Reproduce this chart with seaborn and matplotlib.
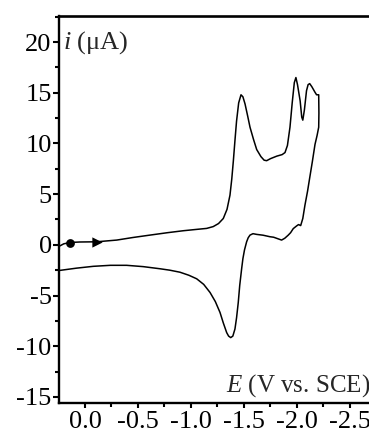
import matplotlib
matplotlib.use("Agg")
import matplotlib.pyplot as plt
import seaborn as sns
import pandas as pd
from matplotlib.ticker import MultipleLocator

# Cyclic voltammogram (E in V vs SCE, i in uA)
E_forward = [0.245, 0.20, 0.142, 0.05, -0.11, -0.30, -0.45, -0.613, -0.78, -0.927,
             -1.05, -1.148, -1.21, -1.26, -1.305, -1.34, -1.368, -1.385, -1.40, -1.415,
             -1.43, -1.45, -1.472, -1.49, -1.51, -1.535, -1.557, -1.59, -1.62, -1.66,
             -1.69, -1.714, -1.75, -1.81, -1.86, -1.887, -1.91, -1.934, -1.955, -1.975,
             -1.99, -2.005, -2.03, -2.045, -2.055, -2.07, -2.09, -2.105, -2.12, -2.14,
             -2.17, -2.185, -2.205]
i_forward = [-0.15, 0.10, 0.23, 0.28, 0.30, 0.47, 0.72, 0.96, 1.20, 1.39,
             1.52, 1.62, 1.80, 2.10, 2.60, 3.50, 4.90, 6.50, 8.30, 10.3,
             12.2, 14.0, 14.8, 14.6, 13.9, 12.7, 11.6, 10.4, 9.4, 8.7,
             8.35, 8.3, 8.5, 8.75, 8.9, 9.1, 9.8, 11.6, 14.0, 16.0,
             16.5, 15.8, 14.2, 12.6, 12.3, 13.3, 15.2, 15.8, 15.9, 15.6,
             15.05, 14.8, 14.8]
E_reverse = [-2.207, -2.205, -2.19, -2.17, -2.145, -2.12, -2.10, -2.075, -2.055, -2.035,
             -2.015, -1.996, -1.965, -1.94, -1.918, -1.885, -1.855, -1.82, -1.78, -1.745,
             -1.68, -1.62, -1.585, -1.557, -1.54, -1.525, -1.505, -1.49, -1.478, -1.46,
             -1.446, -1.43, -1.415, -1.395, -1.375, -1.355, -1.337, -1.305, -1.274, -1.23,
             -1.18, -1.12, -1.054, -0.98, -0.896, -0.80, -0.708, -0.55, -0.393, -0.24,
             -0.078, 0.08, 0.236, 0.30]
i_reverse = [13.0, 11.6, 10.8, 9.9, 8.2, 6.6, 5.3, 3.9, 2.6, 1.9,
             2.0, 1.86, 1.6, 1.2, 0.96, 0.65, 0.47, 0.6, 0.75, 0.8,
             0.95, 1.03, 1.1, 0.96, 0.7, 0.3, -0.5, -1.36, -2.36, -4.0,
             -5.7, -7.2, -8.3, -9.0, -9.15, -9.0, -8.66, -7.7, -6.67, -5.6,
             -4.7, -3.9, -3.35, -3.0, -2.7, -2.5, -2.36, -2.15, -2.02, -2.02,
             -2.12, -2.3, -2.52, -2.6]

start_point_E = [0.142]
start_point_i = [0.23]
arrow_E = [-0.11]
arrow_i = [0.30]

x_ticks = [0.0, -0.5, -1.0, -1.5, -2.0, -2.5]
x_tick_labels = ["0.0", "-0.5", "-1.0", "-1.5", "-2.0", "-2.5"]
y_ticks = [-15, -10, -5, 0, 5, 10, 15, 20]
y_tick_labels = ["-15", "-10", "-5", "0", "5", "10", "15", "20"]

sns.set_style("ticks")
plt.rcParams["font.family"] = ["Liberation Serif", "DejaVu Serif"]
plt.rcParams["mathtext.fontset"] = "custom"
plt.rcParams["mathtext.rm"] = "Liberation Serif"
plt.rcParams["mathtext.it"] = "Liberation Serif:italic"
plt.rcParams["axes.unicode_minus"] = False

df = pd.DataFrame({
    "E": E_forward + E_reverse,
    "i": i_forward + i_reverse,
})

fig = plt.figure(figsize=(3.69, 4.37), dpi=100)
W, H = 369, 437
left_px, top_px, bottom_px = 59, 15.7, 403
xmin, xmax = 0.245, -2.8
px_per_V = 106
width_px = (xmin - xmax) * px_per_V
ax = fig.add_axes([left_px / W, (H - bottom_px) / H, width_px / W, (bottom_px - top_px) / H])

sns.lineplot(data=df, x="E", y="i", sort=False, estimator=None, color="black",
             linewidth=1.1, ax=ax)
sns.scatterplot(x=start_point_E, y=start_point_i, color="black", s=40, marker="o",
                linewidth=0, ax=ax, zorder=5)
sns.scatterplot(x=arrow_E, y=arrow_i, color="black", s=55, marker=">",
                linewidth=0, ax=ax, zorder=5)

ax.set_xlim(xmin, xmax)
ax.set_ylim(-15.6, 22.6)
ax.set_xticks(x_ticks)
ax.set_xticklabels(x_tick_labels)
ax.set_yticks(y_ticks)
ax.set_yticklabels(y_tick_labels)
ax.xaxis.set_minor_locator(MultipleLocator(0.25))
ax.yaxis.set_minor_locator(MultipleLocator(2.5))
ax.tick_params(axis="y", which="major", direction="out", length=4.3, width=1.5,
               labelsize=19, pad=1.0, color="black", labelcolor="black")
ax.tick_params(axis="x", which="major", direction="out", length=3.6, width=1.5,
               labelsize=19, pad=2.5, color="black", labelcolor="black")
ax.tick_params(axis="both", which="minor", direction="out", length=2.8, width=1.5,
               color="black")

for s in ["left", "bottom"]:
    ax.spines[s].set_linewidth(1.7)
    ax.spines[s].set_color("black")
ax.spines["top"].set_visible(True)
ax.spines["top"].set_linewidth(1.9)
ax.spines["top"].set_color("black")
ax.spines["right"].set_visible(False)

ax.set_xlabel("")
ax.set_ylabel("")
ax.text(0.21, 19.95, r"$i$ (μA)", fontsize=19, ha="left", va="center")
ax.text(-1.33, -13.86, r"$E$ (V vs. SCE)", fontsize=18, ha="left", va="center")

fig.savefig("out.png", dpi=100)
